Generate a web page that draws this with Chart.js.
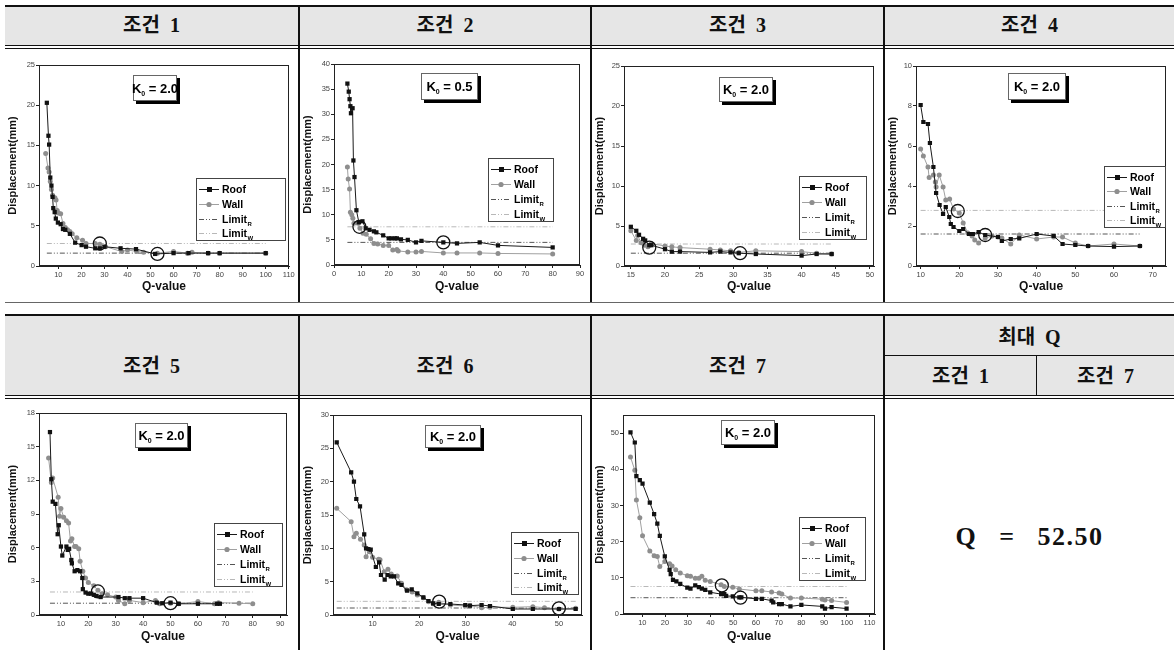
<!DOCTYPE html>
<html>
<head>
<meta charset="utf-8">
<script src="https://cdn.jsdelivr.net/npm/chart.js@4.4.0/dist/chart.umd.min.js"></script>
<style>
body{margin:0;width:1174px;height:650px;background:#fff;position:relative;overflow:hidden;
  font-family:"Liberation Serif","Noto Sans CJK KR",serif;}
.hd{position:absolute;background:#e6e6e6}
.ln{position:absolute;background:#111}
.tx{position:absolute;font-weight:bold;font-size:20px;text-align:center;line-height:24px;word-spacing:5px;color:#111}
canvas{position:absolute}
</style>
</head>
<body>
<!-- table 1 -->
<div class="hd" style="left:5px;top:7px;width:1169px;height:38px"></div>
<div class="ln" style="left:5px;top:5px;width:1169px;height:2px"></div>
<div class="ln" style="left:5px;top:45px;width:1169px;height:1px"></div>
<div class="ln" style="left:5px;top:48px;width:1169px;height:1px"></div>
<div class="ln" style="left:5px;top:302px;width:1169px;height:1px;background:#666"></div>
<div class="ln" style="left:298px;top:7px;width:2px;height:295px"></div>
<div class="ln" style="left:590px;top:7px;width:2px;height:295px"></div>
<div class="ln" style="left:883px;top:7px;width:2px;height:295px"></div>
<div class="tx" style="left:5px;top:13px;width:293px">조건 1</div>
<div class="tx" style="left:300px;top:13px;width:290px">조건 2</div>
<div class="tx" style="left:592px;top:13px;width:291px">조건 3</div>
<div class="tx" style="left:885px;top:13px;width:289px">조건 4</div>

<!-- table 2 -->
<div class="hd" style="left:5px;top:316px;width:1169px;height:79px"></div>
<div class="ln" style="left:5px;top:314px;width:1169px;height:2px"></div>
<div class="ln" style="left:5px;top:395px;width:1169px;height:1px"></div>
<div class="ln" style="left:5px;top:398px;width:1169px;height:1px"></div>
<div class="ln" style="left:885px;top:355px;width:289px;height:1px"></div>
<div class="ln" style="left:1036px;top:355px;width:1px;height:40px"></div>
<div class="ln" style="left:298px;top:316px;width:2px;height:334px"></div>
<div class="ln" style="left:590px;top:316px;width:2px;height:334px"></div>
<div class="ln" style="left:883px;top:316px;width:2px;height:334px"></div>
<div class="tx" style="left:5px;top:354px;width:293px">조건 5</div>
<div class="tx" style="left:300px;top:354px;width:290px">조건 6</div>
<div class="tx" style="left:592px;top:354px;width:291px">조건 7</div>
<div class="tx" style="left:885px;top:325px;width:289px">최대 Q</div>
<div class="tx" style="left:885px;top:364px;width:151px">조건 1</div>
<div class="tx" style="left:1037px;top:364px;width:137px">조건 7</div>
<div class="tx" style="left:885px;top:522px;width:289px;font-size:26px;line-height:30px;word-spacing:14px;letter-spacing:1.5px">Q = 52.50</div>

<script>
// ---- data (Q-value, displacement mm) ----
const roof1 = [[5,20.3],[5.7,16.2],[6,15.1],[6.5,11.0],[7,10.0],[7.5,8.6],[7.8,7.2],[8.4,6.7],[8.9,5.9],[9.8,5.4],[11,5.2],[12,4.6],[13,4.5],[15,4.0],[17.3,2.9],[20.1,2.6],[22,2.4],[26,2.2],[28,2.2],[30,2.4],[37,2.2],[43.7,2.1],[52,1.5],[60,1.6],[66.5,1.6],[75,1.6],[80,1.6],[100,1.6]];
const wall1 = [[4.5,14.0],[5.5,12.2],[6,11.7],[6.5,10.5],[7,9.5],[7.5,8.8],[8.5,8.5],[9,8.2],[9.5,6.9],[10,6.6],[11,6.5],[12,5.3],[13,4.8],[14,4.5],[15,4.3],[16,4.0],[18,3.5],[20.5,3.2],[22,2.8],[26,2.8],[28,2.7],[30.5,2.4],[37.5,1.8],[40,2.0],[44,1.8],[47,1.7],[53,1.6],[60,1.8],[66,1.6],[68,1.7],[75,1.6],[80,1.6],[100,1.6]];
const roof2 = [[4.9,36.1],[5.4,34.5],[5.7,33.0],[6,31.6],[6.2,30.2],[6.8,31.2],[7.1,20.8],[7.5,17.5],[8.2,10.9],[9.1,8.5],[10.4,8.7],[11.6,7.3],[13,7.0],[14.6,6.7],[15.5,6.5],[18,5.9],[20,5.3],[21,5.3],[22.3,5.3],[23,5.3],[24.5,5.1],[27,5.0],[30,4.5],[32,4.8],[40,4.5],[45,4.3],[53.3,4.5],[60,3.9],[80,3.5]];
const wall2 = [[4.9,19.5],[5.2,17.1],[5.7,15.1],[6,10.5],[6.5,10.0],[6.9,9.3],[7.3,8.3],[8.8,8.3],[9.5,7.3],[10.6,6.3],[11.8,6.1],[13.4,5.2],[14.6,4.3],[16,4.2],[18,3.9],[20,3.9],[21.5,3.0],[23,3.1],[23.5,2.8],[27,2.6],[30,2.6],[32,2.7],[40,2.4],[45,2.4],[53.3,2.4],[60,2.3],[80,2.2]];
const roof3 = [[15,4.9],[15.8,4.4],[16.2,3.9],[16.8,3.4],[17.1,3.2],[17.7,2.6],[18,2.6],[20,2.1],[21,1.8],[22.2,1.8],[26.6,1.7],[28.1,1.8],[29.6,1.7],[30.8,1.6],[33.3,1.5],[40,1.3],[42.2,1.5],[44.4,1.5]];
const wall3 = [[15,4.4],[15.8,3.2],[16,3.8],[16.5,2.9],[17,2.6],[17.5,2.4],[18,2.8],[20,2.5],[21,2.4],[22.2,2.3],[26.6,2.1],[28.1,2.0],[29.6,1.9],[30.8,1.7],[33.3,1.9],[40,1.8],[42.2,1.6],[44.4,1.5]];
const roof4 = [[10,8.05],[10.7,7.2],[11.9,7.1],[12.4,6.15],[13.3,4.95],[14,3.65],[14.9,3.05],[15.8,2.6],[16.5,2.95],[17.4,2.45],[17.8,2.1],[18.5,1.95],[20,1.75],[21,1.85],[22.5,1.6],[23.5,1.6],[25,1.7],[26.7,1.55],[30,1.45],[31,1.25],[33.3,1.35],[35.5,1.38],[40,1.6],[44.4,1.5],[46.7,1.1],[50,1.05],[53.3,1.0],[60,0.97],[66.7,1.0]];
const wall4 = [[10,5.85],[10.7,5.5],[11.9,4.95],[12.2,4.42],[13.3,4.55],[13.8,4.2],[14,3.95],[14.8,4.55],[15.8,3.95],[16.5,3.3],[17.5,3.35],[18.5,2.85],[20,2.65],[21,2.15],[22.2,1.65],[23.3,1.5],[24,1.3],[25,1.15],[26.7,1.4],[28.5,1.5],[30,1.45],[31,1.4],[33.3,1.1],[35.5,1.55],[40,1.35],[44.4,1.45],[46.7,1.45],[50,1.15],[53.3,1.0],[60,1.1],[66.7,1.0]];
const roof5 = [[6,16.3],[6.5,12.1],[7,10.1],[8,9.9],[8.8,7.2],[9.2,8.0],[10,6.1],[10.5,5.3],[12,6.1],[12.5,5.8],[13,5.9],[13.8,4.9],[14,4.6],[15,3.9],[16,4.0],[17,3.9],[17.8,3.3],[18,2.3],[19,2.0],[20,1.9],[21,1.9],[22,1.8],[23,1.7],[24.5,1.6],[31,1.6],[33.3,1.5],[35,1.5],[40,1.5],[45,1.1],[47,1.05],[50,1.1],[53,1.0],[60,1.0],[67,1.0],[68,1.0]];
const wall5 = [[5.5,14.0],[6.5,11.8],[7,12.2],[9,10.5],[9.5,8.8],[10,9.5],[11,8.7],[12,8.4],[12.8,8.2],[13.5,6.6],[14,6.8],[15,6.1],[15.5,6.1],[16.5,5.9],[17,4.8],[18,3.9],[19,3.3],[20,2.9],[22,2.6],[23.5,2.2],[25,1.9],[27,1.8],[30,1.6],[31,1.3],[33.3,1.0],[35,1.3],[40,1.1],[44.5,1.3],[46,1.0],[50,1.05],[53,1.0],[60,1.2],[66,1.0],[67.5,1.1],[75,1.05],[80,1.0]];
const roof6 = [[2.3,25.9],[5.4,21.4],[6,20.0],[6.5,17.4],[7.3,16.3],[8.2,12.1],[8.6,10.0],[9.1,9.9],[9.6,9.8],[10.7,7.2],[11.4,7.9],[11.8,6.0],[12.6,5.3],[13.2,6.0],[13.9,5.8],[14.6,5.8],[15.5,4.75],[16.2,4.5],[17.4,3.65],[18.4,3.85],[19.6,3.25],[20.9,2.65],[22,2.1],[23,1.75],[24.2,1.65],[26.7,1.65],[29.9,1.5],[30.9,1.4],[33.4,1.5],[35.2,1.35],[40.1,0.9],[44.4,0.9],[50,0.9],[53.6,0.9]];
const wall6 = [[2.3,16.0],[5.4,14.0],[6,11.75],[6.5,12.25],[7.4,11.35],[8.2,10.5],[8.6,8.75],[9.3,9.5],[10,8.65],[11.3,8.35],[11.6,8.3],[12.5,6.5],[13.3,6.85],[14,6.15],[15.3,5.85],[16.2,4.75],[17.3,3.8],[18.5,3.45],[19.6,3.0],[20.9,2.6],[22,2.0],[23,1.7],[24.2,1.9],[26.7,1.5],[29.9,1.35],[30.9,1.4],[33.4,1.1],[35.2,1.15],[40.1,1.15],[44.4,1.25],[46.9,1.1],[50,0.9],[53.6,1.0]];
const roof7 = [[4.8,50.2],[6.7,47.4],[7.4,38.1],[8.9,37.0],[10.1,36.0],[13.3,30.8],[15.2,27.6],[16.6,25.0],[17.7,21.6],[19.9,15.9],[22,12.2],[22.5,11.0],[23.5,9.4],[25,9.0],[26.7,8.3],[29.8,7.3],[31.2,7.0],[33.3,7.9],[34.9,7.4],[36.2,7.0],[37.7,6.7],[39.9,6.0],[44.7,5.5],[46.1,5.5],[46.9,5.0],[49.8,4.9],[52.7,4.6],[53.6,4.6],[60,4.2],[62.6,4.2],[66.9,3.7],[67.6,3.2],[70.2,2.75],[71.4,2.75],[75.2,2.1],[80,2.5],[89.2,2.1],[90.4,1.5],[93.3,1.9],[99.9,1.5]];
const wall7 = [[4.8,43.4],[6.7,39.7],[7.4,31.5],[8.9,26.6],[10.1,21.6],[13.3,17.4],[15.2,16.1],[16.6,15.9],[17.7,13.1],[19.9,14.5],[22,13.9],[23.1,13.3],[24.7,12.2],[26.7,11.3],[29.8,10.6],[31.2,10.4],[33.3,9.9],[34.9,9.9],[36.2,10.4],[37.7,9.3],[39.9,9.0],[44.7,8.1],[46.1,7.6],[49.8,7.4],[52.7,6.9],[60,6.4],[62.6,6.4],[66.9,6.1],[70.2,5.8],[71.4,5.5],[75.2,4.4],[80,4.4],[89.2,4.1],[90.4,3.9],[93.3,3.7],[99.9,3.2]];
// circled points
const marks1 = [[28,2.8],[53,1.5]];
const marks2 = [[9.3,7.6],[40,4.5]];
const marks3 = [[17.7,2.3],[31,1.6]];
const marks4 = [[19.6,2.75],[26.7,1.55]];
const marks5 = [[23.5,2.1],[50,1.05]];
const marks6 = [[24.3,2.0],[50,1.0]];
const marks7 = [[45,7.9],[53.2,4.5]];
// limit lines
const limitR = [1.6, 4.5, 1.6, 1.6, 1.05, 1.05, 4.5];
const limitW = [2.8, 7.6, 2.75, 2.78, 2.05, 2.05, 7.6];
const limitFrom = [5, 4.9, 15, 10, 6, 2.3, 4.8];
const limitTo = [100, 80, 44.4, 66.7, 80, 53.6, 100];
const k0 = ['2.0', '0.5', '2.0', '2.0', '2.0', '2.0', '2.0'];
// axes
const xRange = [[1.6,110.1],[0,90],[14,50.6],[8.8,73.5],[2,92.5],[1.5,55],[1.5,112.5]];
const yMax = [25, 40, 25, 10, 18, 30, 55];
const xTicks = [
  [10,20,30,40,50,60,70,80,90,100,110],
  [0,10,20,30,40,50,60,70,80,90],
  [15,20,25,30,35,40,45,50],
  [10,20,30,40,50,60,70],
  [10,20,30,40,50,60,70,80,90],
  [10,20,30,40,50],
  [10,20,30,40,50,60,70,80,90,100,110]
];
const yTicks = [
  [0,5,10,15,20,25],
  [0,5,10,15,20,25,30,35,40],
  [0,5,10,15,20,25],
  [0,2,4,6,8,10],
  [0,3,6,9,12,15,18],
  [0,5,10,15,20,25,30],
  [0,10,20,30,40,50]
];
const roofs = [roof1, roof2, roof3, roof4, roof5, roof6, roof7];
const walls = [wall1, wall2, wall3, wall4, wall5, wall6, wall7];
const marks = [marks1, marks2, marks3, marks4, marks5, marks6, marks7];

// ---- layout (page pixels) ----
const cells = [[5,49,298,302],[300,49,590,302],[592,49,883,302],[885,49,1174,302],
               [5,399,298,650],[300,399,590,650],[592,399,883,650]];
const plots = [[39,65,289,266],[334,64,580,265],[624,66,874,266],[916,66,1168,266],
               [39,413,287,615],[333,415,585,615],[623,415,877,614]];
const k0Boxes = [[133,75,177,101],[421,73,478,100],[719,77,773,102],[1008,73,1066,100],
                 [135,423,188,448],[425,425,481,448],[721,420,775,445]];
const legBoxes = [[196,178,286,241],[488,158,554,222],[799,176,867,240],[1104,166,1166,228],
                  [214,523,283,587],[511,532,579,595],[799,517,866,581]];

const SANS = '"Liberation Sans", Arial, sans-serif';
const DASH = [5,2,1,2,1,2];
const toXY = arr => arr.map(p => ({x: p[0], y: p[1]}));

const decor = {
  id: 'decor',
  afterDatasetsDraw(chart, args, o) {
    const ctx = chart.ctx, a = chart.chartArea;
    ctx.save();
    ctx.strokeStyle = '#222';
    ctx.lineWidth = 1;
    ctx.setLineDash([]);
    ctx.strokeRect(Math.round(a.left) + 0.5, Math.round(a.top) + 0.5,
                   Math.round(a.right - a.left) - 1, Math.round(a.bottom - a.top) - 1);

    // K0 box with drop shadow
    let [x0, y0, x1, y1] = o.k0box;
    ctx.fillStyle = '#000';
    ctx.fillRect(x0 + 3, y0 + 3, x1 - x0, y1 - y0);
    ctx.fillStyle = '#fff';
    ctx.fillRect(x0, y0, x1 - x0, y1 - y0);
    ctx.strokeStyle = '#666';
    ctx.strokeRect(x0 + 0.5, y0 + 0.5, x1 - x0 - 1, y1 - y0 - 1);
    ctx.fillStyle = '#000';
    ctx.textBaseline = 'alphabetic';
    ctx.textAlign = 'left';
    const big = 'bold 13px ' + SANS, small = 'bold 7px ' + SANS;
    const rest = ' = ' + o.k0;
    ctx.font = big; const wK = ctx.measureText('K').width, wR = ctx.measureText(rest).width;
    ctx.font = small; const w0 = ctx.measureText('0').width;
    let tx = (x0 + x1) / 2 - (wK + w0 + wR) / 2, ty = (y0 + y1) / 2 + 4.5;
    ctx.font = big; ctx.fillText('K', tx, ty);
    ctx.font = small; ctx.fillText('0', tx + wK, ty + 3);
    ctx.font = big; ctx.fillText(rest, tx + wK + w0, ty);

    // legend
    [x0, y0, x1, y1] = o.legbox;
    ctx.fillStyle = '#fff';
    ctx.fillRect(x0, y0, x1 - x0, y1 - y0);
    ctx.strokeStyle = '#444';
    ctx.strokeRect(x0 + 0.5, y0 + 0.5, x1 - x0 - 1, y1 - y0 - 1);
    const h = y1 - y0;
    const rows = [
      {ds: chart.data.datasets[1], label: 'Roof', sub: ''},
      {ds: chart.data.datasets[2], label: 'Wall', sub: ''},
      {ds: chart.data.datasets[3], label: 'Limit', sub: 'R'},
      {ds: chart.data.datasets[4], label: 'Limit', sub: 'W'}
    ];
    [0.175, 0.41, 0.645, 0.87].forEach((f, i) => {
      const r = rows[i], yy = Math.round(y0 + h * f) + 0.5;
      ctx.strokeStyle = r.ds.borderColor;
      ctx.lineWidth = 1;
      ctx.setLineDash(r.ds.borderDash || []);
      ctx.beginPath(); ctx.moveTo(x0 + 3, yy); ctx.lineTo(x0 + 23, yy); ctx.stroke();
      ctx.setLineDash([]);
      if (r.ds.pointRadius) {
        ctx.fillStyle = r.ds.pointBackgroundColor;
        if (r.ds.pointStyle === 'rect') ctx.fillRect(x0 + 11, yy - 2.5, 5, 5);
        else { ctx.beginPath(); ctx.arc(x0 + 13, yy, 2.6, 0, Math.PI * 2); ctx.fill(); }
      }
      ctx.fillStyle = '#000';
      ctx.font = 'bold 10.5px ' + SANS;
      ctx.fillText(r.label, x0 + 26, yy + 3.5);
      if (r.sub) {
        const w = ctx.measureText(r.label).width;
        ctx.font = 'bold 6px ' + SANS;
        ctx.fillText(r.sub, x0 + 26 + w + 0.5, yy + 6);
      }
    });
    ctx.restore();
  }
};

function tickSetter(vals) {
  return scale => { scale.ticks = vals.map(v => ({value: v})); };
}

for (let i = 0; i < 7; i++) {
  const [cl, ct, cr, cb] = cells[i];
  const [pl, pt, pr, pb] = plots[i];
  const cv = document.createElement('canvas');
  cv.width = cr - cl; cv.height = cb - ct;
  cv.style.left = cl + 'px'; cv.style.top = ct + 'px';
  cv.style.width = (cr - cl) + 'px'; cv.style.height = (cb - ct) + 'px';
  document.body.appendChild(cv);

  const rel = b => [b[0] - cl, b[1] - ct, b[2] - cl, b[3] - ct];
  const lim = v => [{x: limitFrom[i], y: v}, {x: limitTo[i], y: v}];
  const row2 = i >= 4;

  new Chart(cv.getContext('2d'), {
    type: 'scatter',
    data: {
      datasets: [
        {label: 'mark', data: toXY(marks[i]), showLine: false, pointStyle: 'circle',
         pointRadius: 6.5, pointBackgroundColor: 'rgba(0,0,0,0)', pointBorderColor: '#111',
         pointBorderWidth: 1.3},
        {label: 'Roof', data: toXY(roofs[i]), showLine: true, borderColor: '#1a1a1a', borderWidth: 1,
         pointStyle: 'rect', pointRadius: 3, pointBackgroundColor: '#111', pointBorderWidth: 0},
        {label: 'Wall', data: toXY(walls[i]), showLine: true, borderColor: '#a0a0a0', borderWidth: 1,
         pointStyle: 'circle', pointRadius: 2.5, pointBackgroundColor: '#8e8e8e', pointBorderWidth: 0},
        {label: 'LimitR', data: lim(limitR[i]), showLine: true, borderColor: '#555', borderWidth: 1,
         borderDash: DASH, pointRadius: 0},
        {label: 'LimitW', data: lim(limitW[i]), showLine: true, borderColor: '#b8b8b8', borderWidth: 1,
         borderDash: DASH, pointRadius: 0}
      ]
    },
    options: {
      responsive: false,
      animation: false,
      devicePixelRatio: 1,
      layout: {padding: {left: 0, bottom: 0, top: pt - ct, right: cr - pr}},
      plugins: {
        legend: {display: false},
        tooltip: {enabled: false},
        decor: {k0: k0[i], k0box: rel(k0Boxes[i]), legbox: rel(legBoxes[i])}
      },
      scales: {
        x: {
          type: 'linear', position: 'bottom',
          min: xRange[i][0], max: xRange[i][1],
          afterBuildTicks: tickSetter(xTicks[i]),
          afterFit: s => { s.height = cb - pb; },
          grid: {drawOnChartArea: false, drawTicks: true, tickLength: 3, color: '#222'},
          border: {display: true, color: '#222'},
          ticks: {font: {family: SANS, size: 7.5}, color: '#444', padding: 1, maxRotation: 0, autoSkip: false},
          title: {display: true, text: 'Q-value', color: '#111',
                  font: {family: SANS, size: 12, weight: 'bold'},
                  padding: {top: 0, bottom: row2 ? 6 : 8}}
        },
        y: {
          type: 'linear', position: 'left',
          min: 0, max: yMax[i],
          afterBuildTicks: tickSetter(yTicks[i]),
          afterFit: s => { s.width = pl - cl; },
          grid: {drawOnChartArea: false, drawTicks: true, tickLength: 3, color: '#222'},
          border: {display: true, color: '#222'},
          ticks: {font: {family: SANS, size: 7.5}, color: '#444', padding: 1, autoSkip: false},
          title: {display: true, text: 'Displacement(mm)', color: '#111',
                  font: {family: SANS, size: 11, weight: 'bold'},
                  padding: {top: 1, bottom: 0}}
        }
      }
    },
    plugins: [decor]
  });
}
</script>
</body>
</html>
